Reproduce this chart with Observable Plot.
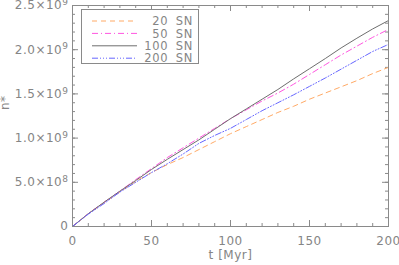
<!DOCTYPE html>
<html><head><meta charset="utf-8">
<script src="https://cdn.jsdelivr.net/npm/d3@7"></script>
<script src="https://cdn.jsdelivr.net/npm/@observablehq/plot@0.6"></script>
<style>
body{margin:0;background:#fff;}
#wrap{position:relative;width:399px;height:265px;}
#legend{position:absolute;left:0;top:0;}
</style></head><body><div id="wrap"></div>
<script>
// ---- data ----
const times = [0,10,20,30,40,50,60,70,80,90,100,110,120,130,140,150,160,170,180,190,200];
const sn20  = [0,0.145e9,0.27e9,0.39e9,0.51e9,0.61e9,0.70e9,0.78e9,0.87e9,0.96e9,1.05e9,1.13e9,1.21e9,1.29e9,1.36e9,1.44e9,1.51e9,1.58e9,1.65e9,1.73e9,1.80e9];
const sn50  = [0,0.145e9,0.275e9,0.40e9,0.53e9,0.655e9,0.78e9,0.89e9,1.00e9,1.11e9,1.22e9,1.32e9,1.42e9,1.51e9,1.61e9,1.72e9,1.83e9,1.94e9,2.04e9,2.14e9,2.23e9];
const sn100 = [0,0.145e9,0.275e9,0.40e9,0.52e9,0.645e9,0.76e9,0.87e9,0.98e9,1.10e9,1.22e9,1.33e9,1.44e9,1.55e9,1.67e9,1.785e9,1.90e9,2.02e9,2.13e9,2.235e9,2.33e9];
const sn200 = [0,0.14e9,0.26e9,0.39e9,0.50e9,0.61e9,0.71e9,0.82e9,0.94e9,1.03e9,1.11e9,1.21e9,1.31e9,1.40e9,1.49e9,1.585e9,1.68e9,1.78e9,1.88e9,1.98e9,2.06e9];
const seriesNames = ["20 SN","50 SN","100 SN","200 SN"];
const seriesValues = [sn20, sn50, sn100, sn200];
const xTicks = [0,50,100,150,200];
const xTickLabels = ["0","50","100","150","200"];
const yTicks = [0,5e8,1e9,1.5e9,2e9,2.5e9];
const yTickLabels = ["0","5.0×10^8","1.0×10^9","1.5×10^9","2.0×10^9","2.5×10^9"];
const xTitle = "t [Myr]";
const yTitle = "n*";

// ---- styles ----
const seriesColors = ["#ffaa66","#ff55e0","#6e6e6e","#6666ff"];
const seriesDash = ["5,4","6,3,1,3",null,"6,2,1,2,1,2,1,2"];
const axisColor = "#8a8a8a";
const textColor = "#858585";

const W=399,H=265,mL=72,mR=11,mT=5,mB=39;
const fh=H-mT-mB, fw=W-mL-mR;
const xMinor = d3.range(0,201,10);
const yMinor = d3.range(0,2.5e9+1,1e8);
const xLab = new Map(xTicks.map((v,i)=>[v,xTickLabels[i]]));
const yLab = new Map(yTicks.map((v,i)=>[v,yTickLabels[i]]));

const lineMarks = seriesValues.map((vals,i)=>Plot.line(times.map((t,j)=>({t, v:vals[j]})),
  {x:"t", y:"v", stroke:seriesColors[i], strokeWidth:1, strokeDasharray:seriesDash[i]}));

const chart = Plot.plot({
  width:W, height:H, marginLeft:mL, marginRight:mR, marginTop:mT, marginBottom:mB,
  x:{domain:[0,200]}, y:{domain:[0,2.5e9]},
  style:{fontFamily:"DejaVu Sans", fontSize:"12px", color:textColor, background:"white", letterSpacing:"0.5px"},
  marks:[
    Plot.tickX(xMinor,{x:d=>d, stroke:axisColor, insetTop:fh-3}),
    Plot.tickX(xMinor,{x:d=>d, stroke:axisColor, insetBottom:fh-3}),
    Plot.tickX(xTicks,{x:d=>d, stroke:axisColor, insetTop:fh-6}),
    Plot.tickX(xTicks,{x:d=>d, stroke:axisColor, insetBottom:fh-6}),
    Plot.tickY(yMinor,{y:d=>d, stroke:axisColor, insetRight:fw-3}),
    Plot.tickY(yMinor,{y:d=>d, stroke:axisColor, insetLeft:fw-3}),
    Plot.tickY(yTicks,{y:d=>d, stroke:axisColor, insetRight:fw-6}),
    Plot.tickY(yTicks,{y:d=>d, stroke:axisColor, insetLeft:fw-6}),
    Plot.axisX(xTicks,{tickSize:0, tickPadding:10, tickFormat:d=>xLab.get(d), label:null, fill:textColor}),
    Plot.axisY(yTicks,{tickSize:0, tickPadding:4, tickFormat:d=>yLab.get(d), label:null, fill:textColor}),
    ...lineMarks,
    Plot.frame({stroke:axisColor}),
    Plot.text([xTitle],{frameAnchor:"bottom", dy:32, text:d=>d, fill:textColor, fontSize:12}),
    Plot.text([yTitle],{frameAnchor:"left", dx:-67, dy:-6, rotate:-90, text:d=>d, fill:textColor, fontSize:12, ariaLabel:"ytitle"})
  ]
});
document.getElementById("wrap").appendChild(chart);

// superscripts on y tick labels
d3.select(chart).selectAll('g[aria-label="y-axis tick label"] text').each(function(){
  const s = d3.select(this).text();
  if (s.includes("^")) {
    const [base, exp] = s.split("^");
    const el = d3.select(this); el.text(base);
    el.append("tspan").attr("dy","-0.45em").attr("font-size","9px").text(exp);
  }
});
// subscript on y title
d3.select(chart).selectAll('g[aria-label="ytitle"] text').each(function(){
  const s = d3.select(this).text();
  const el = d3.select(this); el.text(s.slice(0,1));
  el.append("tspan").attr("dy","0.55em").attr("font-size","9px").text(s.slice(1));
});

// legend
const lg = d3.select("#wrap").append("svg").attr("id","legend").attr("width",W).attr("height",H);
lg.append("rect").attr("x",81.5).attr("y",9.5).attr("width",117).attr("height",54)
  .attr("fill","white").attr("stroke",axisColor);
seriesNames.forEach((n,i)=>{
  const y = 21 + i*12.4;
  lg.append("line").attr("x1",92).attr("x2",137).attr("y1",y).attr("y2",y)
    .attr("stroke",seriesColors[i]).attr("stroke-width",1).attr("stroke-dasharray",seriesDash[i]);
  lg.append("text").attr("x",193).attr("y",y).attr("dy","0.36em").attr("text-anchor","end")
    .attr("font-family","DejaVu Sans").attr("font-size","11.5px").attr("fill",textColor)
    .attr("letter-spacing","0.7px").attr("word-spacing","3px").text(n);
});
</script></body></html>
